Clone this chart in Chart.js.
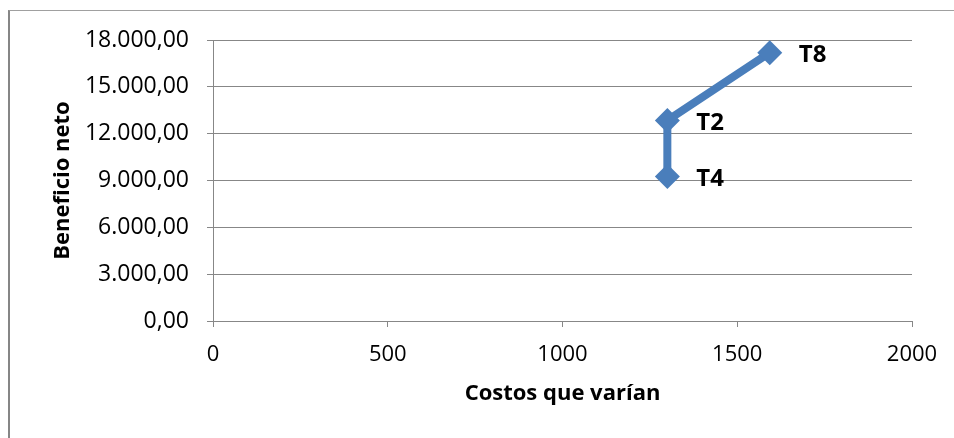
<!DOCTYPE html>
<html>
<head>
<meta charset="utf-8">
<script src="https://cdn.jsdelivr.net/npm/chart.js@4/dist/chart.umd.min.js"></script>
<style>
  body { margin: 0; background: #fff; }
  #wrap { position: relative; width: 954px; height: 438px; overflow: hidden; }
  #frame { position: absolute; left: 8px; top: 10px; width: 2000px; height: 1000px;
           border-left: 2px solid #868686; border-top: 1px solid #a0a0a0; }
  canvas { position: absolute; left: 0; top: 0; }
</style>
</head>
<body>
<div id="wrap">
  <div id="frame"></div>
  <canvas id="chart" width="954" height="438"></canvas>
</div>
<script>
const pointNames = ['T4', 'T2', 'T8'];
const costs = [1300, 1300, 1593];
const benefits = [9250, 12850, 17190];

const blue = '#4a7ebb';
const gridGray = '#878787';

function fmtEs(v) {
  const parts = v.toFixed(2).split('.');
  parts[0] = parts[0].replace(/\B(?=(\d{3})+(?!\d))/g, '.');
  return parts[0] + ',' + parts[1];
}

// labels T2, T4, T8 to the right of each marker
const pointLabels = {
  id: 'pointLabels',
  afterDatasetsDraw(chart) {
    const ctx = chart.ctx;
    const meta = chart.getDatasetMeta(0);
    ctx.save();
    ctx.font = 'bold 24px "Open Sans", sans-serif';
    ctx.fillStyle = '#000';
    ctx.textBaseline = 'middle';
    ctx.textAlign = 'left';
    meta.data.forEach((pt, i) => {
      ctx.fillText(pointNames[i], pt.x + 29, pt.y + 3);
    });
    ctx.restore();
  }
};

new Chart(document.getElementById('chart'), {
  type: 'scatter',
  data: {
    datasets: [{
      data: costs.map((c, i) => ({ x: c, y: benefits[i] })),
      showLine: true,
      borderColor: blue,
      borderWidth: 8,
      backgroundColor: blue,
      pointStyle: 'rectRot',
      pointRadius: 12.5,
      pointBorderWidth: 0,
      pointBackgroundColor: blue
    }]
  },
  options: {
    responsive: false,
    animation: false,
    layout: { padding: { left: 10, top: 40, right: 42, bottom: 10 } },
    plugins: { legend: { display: false }, tooltip: { enabled: false } },
    scales: {
      x: {
        type: 'linear',
        min: 0,
        max: 2000,
        afterFit: s => { s.height = 438 - 321 - 10; },
        ticks: {
          stepSize: 500,
          padding: 15,
          color: '#000',
          font: { family: '"Open Sans", sans-serif', size: 22 },
          callback: v => String(v)
        },
        grid: { drawOnChartArea: false, drawTicks: true, tickLength: 6, color: gridGray },
        border: { display: true, color: gridGray, width: 1 },
        title: {
          display: true,
          text: 'Costos que varían',
          color: '#000',
          font: { family: '"Open Sans", sans-serif', size: 22, weight: 'bold' },
          padding: { top: 0, bottom: 21 }
        }
      },
      y: {
        min: 0,
        max: 18000,
        afterFit: s => { s.width = 213 - 10; },
        ticks: {
          stepSize: 3000,
          padding: 18,
          color: '#000',
          font: { family: '"Open Sans", sans-serif', size: 23 },
          callback: v => fmtEs(v)
        },
        grid: { color: gridGray, tickLength: 6, lineWidth: 1 },
        border: { display: true, color: gridGray, width: 1 },
        title: {
          display: true,
          text: 'Beneficio neto',
          color: '#000',
          font: { family: '"Open Sans", sans-serif', size: 22, weight: 'bold' },
          padding: { top: 40, bottom: 0 }
        }
      }
    }
  },
  plugins: [pointLabels]
});
</script>
</body>
</html>
